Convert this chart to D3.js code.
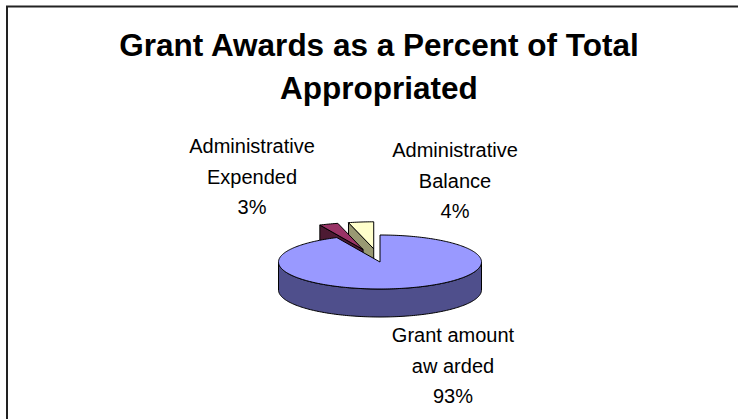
<!DOCTYPE html>
<html>
<head>
<meta charset="utf-8">
<script src="https://cdn.jsdelivr.net/npm/d3@7"></script>
<style>
  body { margin: 0; background: #fff; }
  svg { display: block; font-family: "Liberation Sans", Arial, sans-serif; }
</style>
</head>
<body>
<div id="chart"></div>
<script>
// chart data
const categories = ["Grant amount awarded", "Administrative Expended", "Administrative Balance"];
const percents = [93, 3, 4];
const labelText = [["Grant amount", "aw arded"], ["Administrative", "Expended"], ["Administrative", "Balance"]];
const titleLines = ["Grant Awards as a Percent of Total", "Appropriated"];

// look
const topColors = ["#9999ff", "#993366", "#ffffcc"];
const sideColors = ["#4f4f8c", "#4d1a33", "#999973"];

const width = 738, height = 419;
// pie geometry (flattened ellipse + wall depth)
const pie3d = { cx: 380, cy: 262, rx: 101.5, ry: 27, depth: 28, explode: 50 };
// where the label blocks sit (center x, first baseline)
const labelPos = [{ x: 453, y: 342 }, { x: 252, y: 153 }, { x: 455, y: 157 }];
const labelStep = 30.5;

const svg = d3.select("#chart").append("svg")
  .attr("width", width)
  .attr("height", height);

// frame (only top and left show in the capture)
svg.append("path")
  .attr("d", `M7,${height} L7,6.5 L${width},6.5`)
  .attr("fill", "none")
  .attr("stroke", "#222")
  .attr("stroke-width", 2);

// title
svg.append("text")
  .attr("text-anchor", "middle")
  .attr("font-weight", "bold")
  .attr("font-size", 31.5)
  .selectAll("tspan")
  .data(titleLines)
  .enter()
  .append("tspan")
  .attr("x", 379)
  .attr("y", (d, i) => 56 + i * 43)
  .text(d => d);

const arcs = d3.pie().sort(null).value(d => d)(percents);

// angle 0 = 12 o'clock, clockwise, like d3.pie
function pt(a, off, down) {
  return [
    pie3d.cx + off[0] + pie3d.rx * Math.sin(a),
    pie3d.cy + off[1] - pie3d.ry * Math.cos(a) + (down || 0)
  ];
}

function arcPoints(a0, a1, off, down) {
  const n = Math.max(2, Math.ceil(Math.abs(a1 - a0) / 0.02));
  return d3.range(n + 1).map(k => pt(a0 + (a1 - a0) * k / n, off, down));
}

const line = d3.line();

function drawSlice(g, d, i) {
  let off = [0, 0];
  if (i > 0) {
    const mid = (d.startAngle + d.endAngle) / 2;
    off = [pie3d.explode * Math.sin(mid), -pie3d.explode * (pie3d.ry / pie3d.rx) * Math.cos(mid)];
  }
  const c = [pie3d.cx + off[0], pie3d.cy + off[1]];
  const cDown = [c[0], c[1] + pie3d.depth];

  // radial cut faces
  [[d.startAngle, Math.sin(d.startAngle) < -1e-6], [d.endAngle, Math.sin(d.endAngle) > 1e-6]]
    .forEach(([a, visible]) => {
      if (!visible) return;
      const p = pt(a, off), pd = pt(a, off, pie3d.depth);
      g.append("path")
        .attr("d", line([c, p, pd, cDown]) + "Z")
        .attr("fill", sideColors[i])
        .attr("stroke", "#000")
        .attr("stroke-width", 1)
        .attr("stroke-linejoin", "round");
    });

  // outer wall, front half only
  const w0 = Math.max(d.startAngle, Math.PI / 2);
  const w1 = Math.min(d.endAngle, Math.PI * 1.5);
  if (w1 > w0) {
    const topEdge = arcPoints(w0, w1, off);
    const botEdge = arcPoints(w1, w0, off, pie3d.depth);
    g.append("path")
      .attr("d", line(topEdge.concat(botEdge)) + "Z")
      .attr("fill", sideColors[i])
      .attr("stroke", "#000")
      .attr("stroke-width", 1)
      .attr("stroke-linejoin", "round");
  }

  // top face
  g.append("path")
    .attr("d", line([c].concat(arcPoints(d.startAngle, d.endAngle, off))) + "Z")
    .attr("fill", topColors[i])
    .attr("stroke", "#000")
    .attr("stroke-width", 1)
    .attr("stroke-linejoin", "round");
}

const pieG = svg.append("g");
// back slices first, the big one covers them
[2, 1, 0].forEach(i => drawSlice(pieG.append("g").attr("class", "slice"), arcs[i], i));

// labels
const labels = svg.append("g")
  .attr("font-size", 20)
  .attr("fill", "#000")
  .attr("text-anchor", "middle");

categories.forEach((name, i) => {
  const lines = labelText[i].concat([percents[i] + "%"]);
  const t = labels.append("text").attr("class", "label").attr("data-name", name);
  t.selectAll("tspan")
    .data(lines)
    .enter()
    .append("tspan")
    .attr("x", labelPos[i].x)
    .attr("y", (d, k) => labelPos[i].y + k * labelStep)
    .text(d => d);
});
</script>
</body>
</html>
